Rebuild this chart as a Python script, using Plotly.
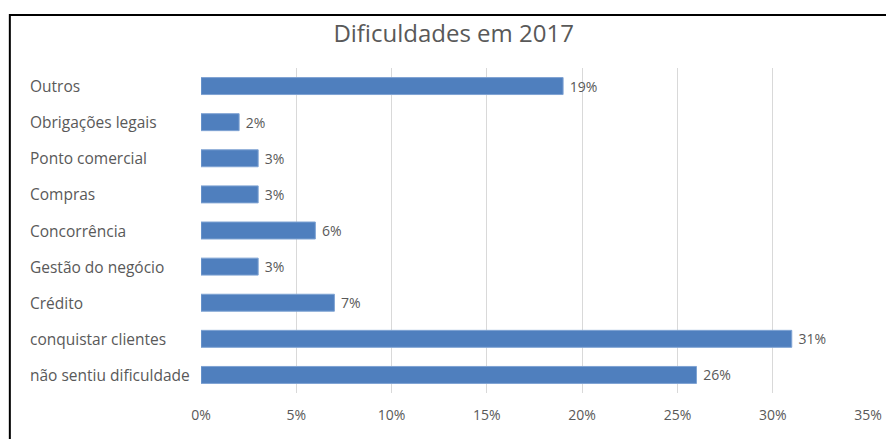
import plotly.graph_objects as go

categorias = ['não sentiu dificuldade', 'conquistar clientes', 'Crédito', 'Gestão do negócio',
              'Concorrência', 'Compras', 'Ponto comercial', 'Obrigações legais', 'Outros']
valores = [0.26, 0.31, 0.07, 0.03, 0.06, 0.03, 0.03, 0.02, 0.19]
rotulos = ['26%', '31%', '7%', '3%', '6%', '3%', '3%', '2%', '19%']
ticks_x = [0, 0.05, 0.10, 0.15, 0.20, 0.25, 0.30, 0.35]
ticks_txt = ['0%', '5%', '10%', '15%', '20%', '25%', '30%', '35%']

cinza = '#595959'
fonte = 'Open Sans, DejaVu Sans, sans-serif'

fig = go.Figure()
fig.add_trace(go.Bar(
    y=categorias, x=valores, orientation='h',
    marker=dict(color='#4F7FBE', line=dict(color='#7FA3D3', width=1)),
    width=0.47,
    text=rotulos, texttemplate='\u00a0%{text}', textposition='outside', cliponaxis=False,
    constraintext='none',
    textfont=dict(family=fonte, size=14, color=cinza),
))

# rótulos das categorias alinhados à esquerda
for c in categorias:
    fig.add_annotation(x=-0.2597, xref='paper', y=c, yref='y', text=c, showarrow=False,
                       xanchor='left', font=dict(family=fonte, size=15.5, color=cinza))

# a página tem margem de 8px, por isso largura/altura menores
fig.update_layout(
    width=886, height=431,
    margin=dict(l=193, r=23, t=60, b=46),
    paper_bgcolor='white', plot_bgcolor='white',
    showlegend=False,
    title=dict(text='Dificuldades em 2017', x=0.503, xanchor='center', y=0.94, yanchor='middle',
               font=dict(family=fonte, size=24, color=cinza)),
    xaxis=dict(range=[0, 0.35], tickvals=ticks_x, ticktext=ticks_txt, showgrid=True,
               gridcolor='#D9D9D9', gridwidth=1, zeroline=False, showline=False,
               tickfont=dict(family=fonte, size=14, color=cinza), ticks='', ticklabelstandoff=12),
    yaxis=dict(showticklabels=False, showgrid=False, zeroline=False, showline=False,
               range=[-0.5, 8.5]),
    bargap=0.5,
)

fig.add_shape(type='rect', xref='paper', yref='paper', x0=-0.2866, y0=-0.3, x1=1.1, y1=1.163,
              line=dict(color='black', width=2), fillcolor='rgba(0,0,0,0)', layer='above')

fig.write_html('out.html')
